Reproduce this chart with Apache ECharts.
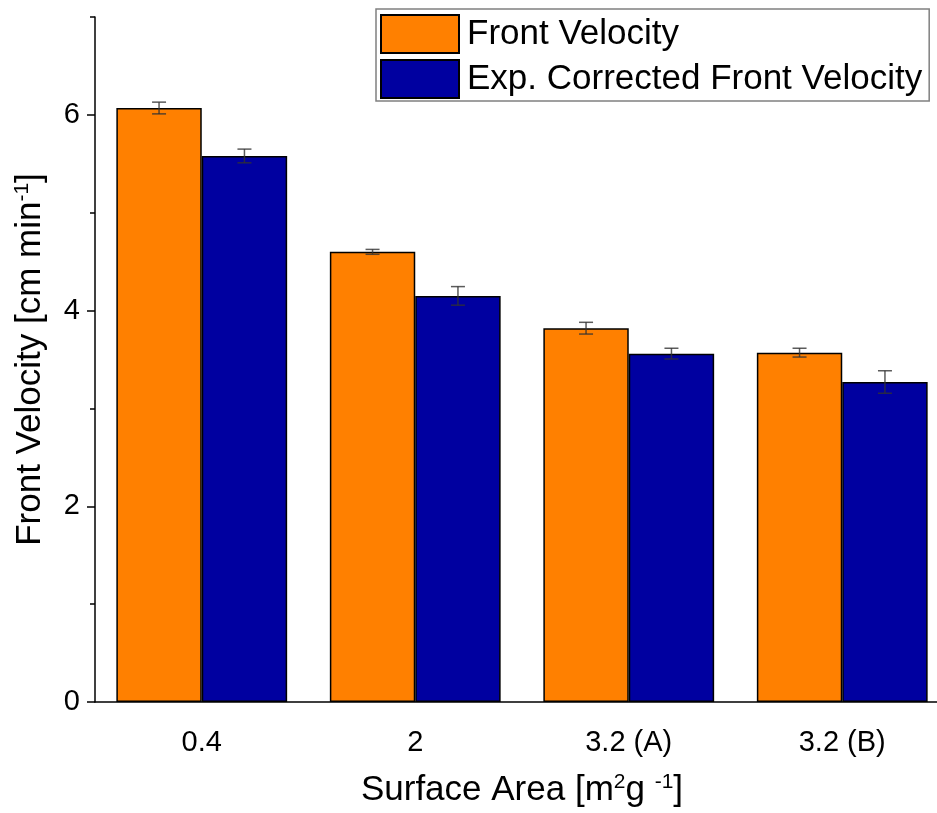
<!DOCTYPE html>
<html>
<head>
<meta charset="utf-8">
<script src="https://cdn.jsdelivr.net/npm/echarts@6/dist/echarts.min.js"></script>
<style>
  html, body { margin: 0; padding: 0; background: #fff; overflow: hidden; }
  /* plot runs slightly past the right edge of the view, as the last bar is cut off */
  #chart { width: 949px; height: 813px; }
</style>
</head>
<body>
<div id="chart"></div>
<script>
// Surface area groups and measured front velocities (cm/min)
const categories = ['0.4', '2', '3.2 (A)', '3.2 (B)'];
const frontVelocity = [6.07, 4.60, 3.82, 3.57];
const frontVelocityErr = [0.06, 0.025, 0.06, 0.045];
const correctedVelocity = [5.58, 4.15, 3.56, 3.27];
const correctedVelocityErr = [0.07, 0.095, 0.055, 0.115];
const seriesNames = ['Front Velocity', 'Exp. Corrected Front Velocity'];
const majorYTicks = [0, 2, 4, 6];
const minorYTicks = [1, 3, 5, 7];

const FONT = 'Liberation Sans, Arial, sans-serif';
const ORANGE = '#FF8000';
const NAVY = '#0000A0';
const TICK_FONT = 29;
const TITLE_FONT = 35;
const SUP_FONT = 21;

function errorData(vals, errs) {
  return vals.map((v, i) => [i, v - errs[i], v + errs[i]]);
}

// Error bars drawn over each bar of a grouped pair; offset in band fractions
function errorSeries(vals, errs, offset) {
  return {
    type: 'custom',
    xAxisIndex: 0,
    yAxisIndex: 0,
    z: 10,
    silent: true,
    data: errorData(vals, errs),
    encode: { x: 0, y: [1, 2] },
    renderItem: function (params, api) {
      const i = api.value(0);
      const lo = api.coord([i, api.value(1)]);
      const hi = api.coord([i, api.value(2)]);
      const band = api.size([1, 0])[0];
      const x = lo[0] + band * offset;
      const half = 7;
      const style = { stroke: 'rgba(50,50,50,0.8)', lineWidth: 1.5 };
      return {
        type: 'group',
        children: [
          { type: 'line', shape: { x1: x, y1: hi[1], x2: x, y2: lo[1] }, style: style },
          { type: 'line', shape: { x1: x - half, y1: hi[1], x2: x + half, y2: hi[1] }, style: style },
          { type: 'line', shape: { x1: x - half, y1: lo[1], x2: x + half, y2: lo[1] }, style: style }
        ]
      };
    }
  };
}

const titleRich = {
  n: { fontSize: TITLE_FONT, color: '#000', fontFamily: FONT },
  s: { fontSize: SUP_FONT, color: '#000', fontFamily: FONT, padding: [0, 0, 16, 0] }
};

const chart = echarts.init(document.getElementById('chart'));
chart.setOption({
  animation: false,
  backgroundColor: '#fff',
  textStyle: { fontFamily: FONT },
  grid: { left: 95, right: 0, top: 17, bottom: 110 },
  legend: {
    data: seriesNames,
    orient: 'vertical',
    left: 376,
    top: 9,
    itemWidth: 78,
    itemHeight: 38,
    itemGap: 5,
    padding: [5, 7, 2, 4],
    borderColor: '#808080',
    borderWidth: 1.5,
    icon: 'rect',
    textStyle: { fontSize: TITLE_FONT, color: '#000', fontFamily: FONT, padding: [0, 0, 0, 3] }
  },
  xAxis: [
    {
      type: 'category',
      data: categories,
      axisLine: { lineStyle: { color: '#000', width: 1.5 } },
      axisTick: { alignWithLabel: true, length: 8, lineStyle: { color: '#000', width: 1.5 } },
      axisLabel: { fontSize: TICK_FONT, color: '#000', margin: 26, fontFamily: FONT },
      name: '{n|Surface Area [m}{s|2}{n|g }{s|-1}{n|]}',
      nameLocation: 'middle',
      nameGap: 70,
      nameTextStyle: { rich: titleRich }
    },
    {
      type: 'category',
      data: categories,
      position: 'bottom',
      axisLine: { show: false },
      axisTick: { alignWithLabel: false, length: 5, lineStyle: { color: '#000', width: 1.5 } },
      axisLabel: { show: false }
    }
  ],
  yAxis: [
    {
      type: 'value',
      min: 0,
      max: 7,
      interval: 1,
      splitLine: { show: false },
      axisLine: { show: true, lineStyle: { color: '#000', width: 1.5 } },
      axisTick: { show: true, length: 8, customValues: majorYTicks, lineStyle: { color: '#000', width: 1.5 } },
      axisLabel: { fontSize: TICK_FONT, color: '#000', margin: 15, fontFamily: FONT, customValues: majorYTicks },
      name: '{n|Front Velocity [cm min}{s|-1}{n|]}',
      nameLocation: 'middle',
      nameGap: 46,
      nameTextStyle: { rich: titleRich }
    },
    {
      type: 'value',
      min: 0,
      max: 7,
      interval: 1,
      position: 'left',
      splitLine: { show: false },
      axisLine: { show: false },
      axisTick: { show: true, length: 5, customValues: minorYTicks, lineStyle: { color: '#000', width: 1.5 } },
      axisLabel: { show: false }
    }
  ],
  series: [
    {
      name: seriesNames[0],
      type: 'bar',
      data: frontVelocity,
      barGap: '0%',
      barCategoryGap: '20%',
      itemStyle: { color: ORANGE, borderColor: '#000', borderWidth: 1.5 }
    },
    {
      name: seriesNames[1],
      type: 'bar',
      data: correctedVelocity,
      barGap: '0%',
      barCategoryGap: '20%',
      itemStyle: { color: NAVY, borderColor: '#000', borderWidth: 1.5 }
    },
    errorSeries(frontVelocity, frontVelocityErr, -0.2),
    errorSeries(correctedVelocity, correctedVelocityErr, 0.2)
  ]
});
</script>
</body>
</html>
